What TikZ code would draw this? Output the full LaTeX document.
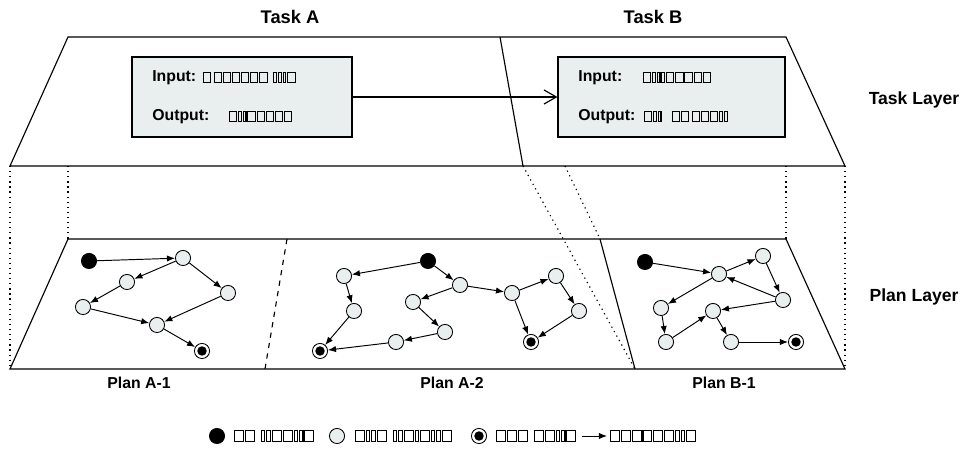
\documentclass[tikz,border=0pt]{standalone}
\usepackage{fontspec}
\setmainfont{Liberation Sans}
\usetikzlibrary{arrows.meta}
\definecolor{paleblue}{HTML}{E9EFEF}
% placeholder glyph boxes: #1 inner width, #2 inner height
\newcommand{\tofubox}[2]{\kern0.25pt{\fboxsep=0pt\fboxrule=0.6pt\fbox{\rule{0pt}{#2}\hspace{#1}}}\kern0.25pt}
% field text set
\newcommand{\tw}{\tofubox{3.5pt}{5.2pt}}
\newcommand{\tn}{\tofubox{1.0pt}{5.2pt}}
\newcommand{\tsp}{\hspace{2.6pt}}
% legend set
\newcommand{\lgw}{\tofubox{4.5pt}{5.6pt}}
\newcommand{\lgn}{\tofubox{1.4pt}{5.6pt}}
\newcommand{\lgsp}{\hspace{3pt}}
\begin{document}
\begin{tikzpicture}[x=0.02cm,y=-0.02cm,
  layer/.style={line width=0.65pt},
  proj/.style={line width=0.65pt, dash pattern=on 0.7pt off 2.2pt},
  taskbox/.style={draw, line width=0.65pt, fill=paleblue, minimum height=1.6cm, inner sep=0pt},
  state/.style={circle, draw, fill=paleblue, minimum size=8.6pt, inner sep=0pt, line width=0.5pt},
  startst/.style={state, fill=black},
  endst/.style={state, fill=white, path picture={\fill[black] (path picture bounding box.center) circle (2.7pt);}},
  trans/.style={-{Latex[length=4.6pt,width=3.6pt]}, line width=0.55pt},
  title/.style={font=\bfseries\fontsize{10.4}{12}\selectfont},
  sidelbl/.style={font=\bfseries\fontsize{10}{12}\selectfont},
  planlbl/.style={font=\bfseries\fontsize{9}{11}\selectfont},
  field/.style={anchor=base west, inner sep=0pt, font=\bfseries\fontsize{9}{11}\selectfont},
  legtxt/.style={anchor=west, inner sep=0pt}]
\useasboundingbox (0,0) rectangle (968,449);

% ---------- task layer ----------
\coordinate (tTL) at (68,37);
\coordinate (tTR) at (786,37);
\coordinate (tBR) at (845,166);
\coordinate (tBL) at (10,166);
\coordinate (tDT) at (500,37);
\coordinate (tDB) at (523,166);
\coordinate (tPB) at (565,166);
\draw[layer] (tTL) -- (tTR) -- (tBR) -- (tBL) -- cycle;
\draw[layer] (tDT) -- (tDB);

% ---------- plan layer ----------
\coordinate (pTL) at (68,239);
\coordinate (pTR) at (786,239);
\coordinate (pBR) at (845,369);
\coordinate (pBL) at (10,369);
\coordinate (pAT) at (287,239);
\coordinate (pAB) at (265,369);
\coordinate (pBT) at (600,239);
\coordinate (pBB) at (635,369);
\draw[layer] (pTL) -- (pTR) -- (pBR) -- (pBL) -- cycle;
\draw[layer, dashed] (pAT) -- (pAB);
\draw[layer] (pBT) -- (pBB);

% projection lines between the layers
\draw[proj] (tBL) -- (pBL);
\draw[proj] (68,166) -- (pTL);
\draw[proj] (786,166) -- (pTR);
\draw[proj] (tBR) -- (pBR);
\draw[proj] (tDB) -- (pBB);
\draw[proj] (tPB) -- (pBT);

% ---------- titles ----------
\node[title] (taskA) at (290,17) {Task A};
\node[title] (taskB) at (653,17) {Task B};
\node[sidelbl] (tasklayer) at (914,100) {Task Layer};
\node[sidelbl] (planlayer) at (914,297) {Plan Layer};

% ---------- task boxes ----------
\node[taskbox, minimum width=4.4cm] (boxA) at (242,97) {};
\node[taskbox, minimum width=4.54cm] (boxB) at (671.5,97) {};
\draw[line width=0.65pt, -{Straight Barb[length=7pt,width=8pt]}] (boxA) -- (boxB);

\node[field] (inA) at (152,82) {Input:};
\node[field] (inAv) at (202,82) {\tw\kern1pt\tw\tw\tw\tw\tw\tw\tsp\tn\tn\tn\tw};
\node[field] (outA) at (152,121) {Output:};
\node[field] (outAv) at (228,121) {\tw\tn\tn\tw\tw\tw\tw\tw};

\node[field] (inB) at (578,82) {Input:};
\node[field] (inBv) at (642,82) {\tw\tn\tn\tn\tw\tw\tw\tw\tw};
\node[field] (outB) at (578,121) {Output:};
\node[field] (outBv) at (643,121) {\tw\tn\tn\tsp\tsp\tw\tw\kern1pt\tw\tw\tw\tn\tn};

% ---------- Plan A-1 ----------
\node[startst] (s1) at (89,261) {};
\node[state] (a1) at (183,258) {};
\node[state] (a2) at (127,282) {};
\node[state] (a3) at (228,293) {};
\node[state] (a4) at (83,307) {};
\node[state] (a5) at (157,325) {};
\node[endst] (e1) at (202,351) {};
\draw[trans] (s1) -- (a1);
\draw[trans] (a1) -- (a2);
\draw[trans] (a1) -- (a3);
\draw[trans] (a2) -- (a4);
\draw[trans] (a4) -- (a5);
\draw[trans] (a3) -- (a5);
\draw[trans] (a5) -- (e1);

% ---------- Plan A-2 ----------
\node[startst] (s2) at (428,261) {};
\node[state] (b1) at (344,276) {};
\node[state] (b2) at (354,311) {};
\node[endst] (e2a) at (320,351) {};
\node[state] (b3) at (460,285) {};
\node[state] (b4) at (413,302) {};
\node[state] (b5) at (445,332) {};
\node[state] (b6) at (396,342) {};
\node[state] (b7) at (512,293) {};
\node[state] (b8) at (556,276) {};
\node[state] (b9) at (579,311) {};
\node[endst] (e2b) at (531,342) {};
\draw[trans] (s2) -- (b1);
\draw[trans] (b1) -- (b2);
\draw[trans] (b2) -- (e2a);
\draw[trans] (s2) -- (b3);
\draw[trans] (b3) -- (b4);
\draw[trans] (b4) -- (b5);
\draw[trans] (b5) -- (b6);
\draw[trans] (b6) -- (e2a);
\draw[trans] (b3) -- (b7);
\draw[trans] (b7) -- (b8);
\draw[trans] (b8) -- (b9);
\draw[trans] (b7) -- (e2b);
\draw[trans] (b9) -- (e2b);

% ---------- Plan B-1 ----------
\node[startst] (s3) at (645,262) {};
\node[state] (c1) at (719,274) {};
\node[state] (c2) at (763,256) {};
\node[state] (c3) at (783,300) {};
\node[state] (c4) at (661,308) {};
\node[state] (c5) at (713,311) {};
\node[state] (c6) at (666,342) {};
\node[state] (c7) at (731,342) {};
\node[endst] (e3) at (796,342) {};
\draw[trans] (s3) -- (c1);
\draw[trans] (c1) -- (c2);
\draw[trans] (c2) -- (c3);
\draw[trans] (c3) -- (c1);
\draw[trans] (c1) -- (c4);
\draw[trans] (c3) -- (c5);
\draw[trans] (c4) -- (c6);
\draw[trans] (c6) -- (c5);
\draw[trans] (c5) -- (c7);
\draw[trans] (c7) -- (e3);

% ---------- plan names ----------
\node[planlbl] (planA1) at (139,383) {Plan A-1};
\node[planlbl] (planA2) at (452,383) {Plan A-2};
\node[planlbl] (planB1) at (724,383) {Plan B-1};

% ---------- legend ----------
\node[startst] (kstart) at (217,436) {};
\node[legtxt] (kstartt) at (233,436) {\lgw\lgw\lgsp\lgn\lgn\lgw\lgw\lgn\lgn\lgw};
\node[state] (kmid) at (337,436) {};
\node[legtxt] (kmidt) at (354,436) {\lgw\lgn\lgn\lgw\lgsp\lgn\lgn\lgw\lgn\lgw\lgn\lgn\lgw};
\node[endst] (kend) at (479,436) {};
\node[legtxt] (kendt) at (495,436) {\lgw\lgw\lgw\lgsp\lgw\lgw\lgn\lgn\lgw};
\coordinate (karrs) at (582,436);
\coordinate (karre) at (607,436);
\draw[trans] (karrs) -- (karre);
\node[legtxt] (karrt) at (609,436) {\lgw\lgw\lgw\lgw\lgw\lgw\lgn\lgn\lgw};
\end{tikzpicture}
\end{document}
